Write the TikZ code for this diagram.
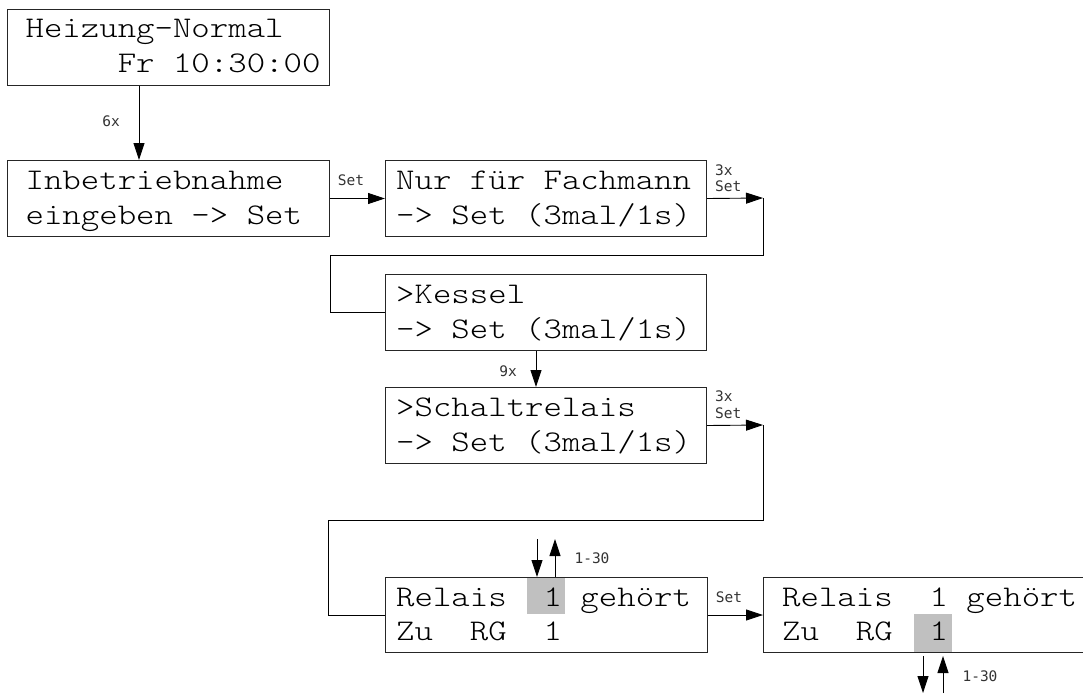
\documentclass[tikz,border=0pt]{standalone}
\usepackage{fontspec}
\newfontfamily\lcdfont{lmmonolt10-regular.otf}[FakeStretch=1.17]
\newfontfamily\lblfont{DejaVu Sans Mono}
\usetikzlibrary{arrows.meta,calc}
\definecolor{hlgray}{RGB}{192,192,192}
\newcommand\lcdsp{\hphantom{0}}
\begin{document}
\begin{tikzpicture}[x=1pt,y=-1pt,
  box/.style={draw=black!85, line width=1pt, rectangle, inner sep=0pt, anchor=north west},
  lcd/.style={font=\lcdfont\fontsize{30}{35}\selectfont, inner sep=0pt, anchor=base west},
  lbl/.style={font=\lblfont\fontsize{14.5}{16}\selectfont, inner sep=0pt, text=black!80},
  arr/.style={-{Triangle[length=17pt,width=11pt]}, line width=0.9pt},
  con/.style={line width=0.9pt}]
\useasboundingbox (0,0) rectangle (1083,693);
\fill[white] (0,0) rectangle (1083,693);
% highlights
\fill[hlgray] (527,577) rectangle (565,614);
\fill[hlgray] (914,614) rectangle (952,652);
% boxes
\node[box, minimum width=322pt, minimum height=76pt] (b1) at (7,9) {};
\node[box, minimum width=322pt, minimum height=76pt] (b2) at (7,160) {};
\node[box, minimum width=321pt, minimum height=76pt] (b3) at (385,160) {};
\node[box, minimum width=321pt, minimum height=76pt] (b4) at (385,274) {};
\node[box, minimum width=321pt, minimum height=76pt] (b5) at (385,387) {};
\node[box, minimum width=322pt, minimum height=75pt] (b6) at (385,577) {};
\node[box, minimum width=330pt, minimum height=75pt] (b7) at (763,577) {};
% texts
\node[lcd] (t1a) at (7,37.7) {\lcdsp Heizung-Normal};
\node[lcd] (t1b) at (7,72.7) {\lcdsp\lcdsp\lcdsp\lcdsp\lcdsp\lcdsp Fr 10:30:00};
\node[lcd] (t2a) at (7,189.5) {\lcdsp Inbetriebnahme};
\node[lcd] (t2b) at (7,224) {\lcdsp eingeben -> Set};
\node[lcd] (t3a) at (396,189.5) {Nur für Fachmann};
\node[lcd] (t3b) at (396,224) {-> Set (3mal/1s)};
\node[lcd] (t4a) at (396,303.5) {>Kessel};
\node[lcd] (t4b) at (396,338) {-> Set (3mal/1s)};
\node[lcd] (t5a) at (396,416.5) {>Schaltrelais};
\node[lcd] (t5b) at (396,451) {-> Set (3mal/1s)};
\node[lcd] (t6a) at (396,606) {Relais\lcdsp\lcdsp 1 gehört};
\node[lcd] (t6b) at (396,640) {Zu\lcdsp\lcdsp RG\lcdsp\lcdsp 1};
\node[lcd] (t7a) at (782,606) {Relais\lcdsp\lcdsp 1 gehört};
\node[lcd] (t7b) at (782,640) {Zu\lcdsp\lcdsp RG\lcdsp\lcdsp 1};
% connectors
\coordinate (x1) at (139,0);
\draw[arr] (b1.south -| x1) -- (b2.north -| x1);
\draw[arr] (b2) -- (b3);
\coordinate (c1) at (763,198);
\coordinate (c2) at (330,255);
\draw[arr] (b3.east) -- (c1);
\draw[con] (c1) |- (c2) |- (b4.west);
\coordinate (x2) at (536,0);
\draw[arr] (b4.south -| x2) -- (b5.north -| x2);
\coordinate (c3) at (763,425);
\coordinate (c4) at (328,520);
\draw[arr] (b5.east) -- (c3);
\draw[con] (c3) |- (c4) |- (b6.west);
\draw[arr] (b6) -- (b7);
\coordinate (d1) at (537,539);
\coordinate (u1) at (555,539);
\draw[arr] (d1) -- (d1 |- b6.north);
\draw[arr] (u1 |- b6.north) -- (u1);
\coordinate (d2a) at (923,656);
\coordinate (d2b) at (923,693);
\coordinate (u2a) at (943,693);
\coordinate (u2b) at (943,656);
\draw[arr] (d2a) -- (d2b);
\draw[arr] (u2a) -- (u2b);
% labels
\node[lbl] (l1) at (111,121) {6x};
\node[lbl] (l2) at (351,180) {Set};
\node[lbl, anchor=base west] (l3a) at (715,175.3) {3x};
\node[lbl, anchor=base west] (l3b) at (715,191.3) {Set};
\node[lbl] (l4) at (508,371) {9x};
\node[lbl, anchor=base west] (l5a) at (715,401.3) {3x};
\node[lbl, anchor=base west] (l5b) at (715,418.3) {Set};
\node[lbl] (l6) at (592,558) {1-30};
\node[lbl] (l7) at (729,597) {Set};
\node[lbl] (l8) at (980,676) {1-30};
\end{tikzpicture}
\end{document}
